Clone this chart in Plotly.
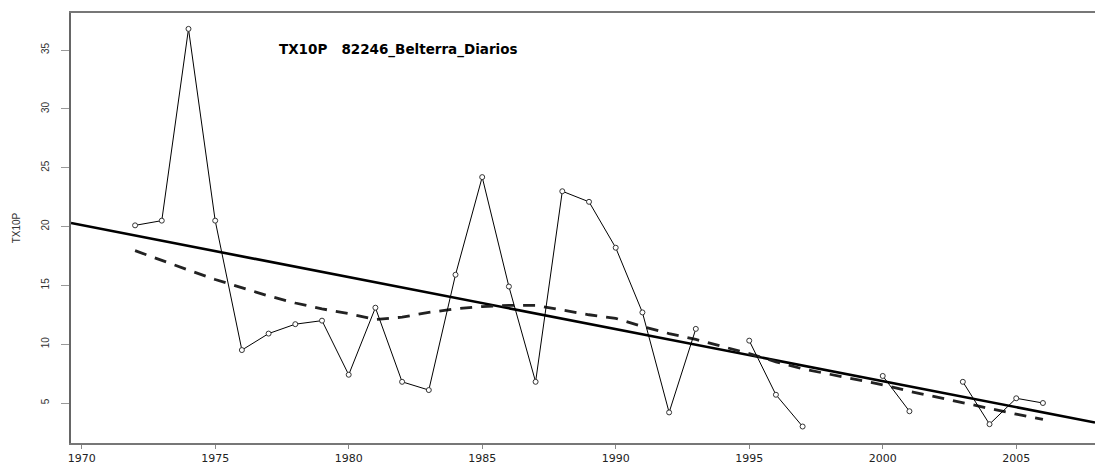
import numpy as np
import plotly.graph_objects as go

# ---- data ----
years = [1972, 1973, 1974, 1975, 1976, 1977, 1978, 1979, 1980, 1981, 1982, 1983,
         1984, 1985, 1986, 1987, 1988, 1989, 1990, 1991, 1992, 1993, 1994, 1995,
         1996, 1997, 1998, 1999, 2000, 2001, 2002, 2003, 2004, 2005, 2006]
tx10p = [20.1, 20.5, 36.8, 20.5, 9.5, 10.9, 11.7, 12.0, 7.4, 13.1, 6.8, 6.1,
         15.9, 24.2, 14.9, 6.8, 23.0, 22.1, 18.2, 12.7, 4.2, 11.3, None, 10.3,
         5.7, 3.0, None, None, 7.3, 4.3, None, 6.8, 3.2, 5.4, 5.0]

lowess_years = [1972, 1973, 1974, 1975, 1976, 1977, 1978, 1979, 1980, 1981, 1982,
                1983, 1984, 1985, 1986, 1987, 1988, 1989, 1990, 1991, 1992, 1993,
                1995, 1996, 1997, 2000, 2001, 2003, 2004, 2005, 2006]
lowess_vals = [17.95, 17.1, 16.3, 15.5, 14.8, 14.1, 13.5, 13.0, 12.6, 12.1, 12.3,
               12.7, 13.0, 13.2, 13.3, 13.3, 12.9, 12.5, 12.2, 11.5, 10.9, 10.4,
               9.2, 8.5, 7.9, 6.55, 6.0, 5.0, 4.5, 4.05, 3.6]

trend_value_1970 = 20.12
trend_slope = -0.442

x_ticks = [1970, 1975, 1980, 1985, 1990, 1995, 2000, 2005]
y_ticks = [5, 10, 15, 20, 25, 30, 35]

title_text = "TX10P   82246_Belterra_Diarios"
y_label = "TX10P"

x_range = [1969.6, 2007.95]
y_range = [1.6, 38.15]

# ---- figure ----
fig = go.Figure()

trend_x = np.array(x_range)
trend_y = trend_value_1970 + trend_slope * (trend_x - 1970)
fig.add_trace(go.Scatter(x=trend_x, y=trend_y, mode="lines",
                         line=dict(color="black", width=2.6), hoverinfo="skip"))

fig.add_trace(go.Scatter(x=lowess_years, y=lowess_vals, mode="lines",
                         line=dict(color="#222222", width=2.8, dash="12px,9px"),
                         hoverinfo="skip"))

fig.add_trace(go.Scatter(x=years, y=tx10p, mode="lines+markers", connectgaps=False,
                         line=dict(color="black", width=1),
                         marker=dict(symbol="circle", size=5, color="white",
                                     line=dict(color="#333333", width=1))))

fig.add_annotation(text="<b>" + title_text + "</b>", xref="paper", yref="paper",
                   x=0.201, y=0.914, xanchor="left", yanchor="middle",
                   showarrow=False,
                   font=dict(family="DejaVu Sans", size=13.5, color="black"))

fig.update_layout(
    width=1095, height=465,
    margin=dict(l=71, r=0, t=13, b=22),
    paper_bgcolor="white", plot_bgcolor="white",
    showlegend=False,
    font=dict(family="DejaVu Sans", color="#222222"),
    xaxis=dict(range=x_range, tickvals=x_ticks, showgrid=False, zeroline=False,
               showline=True, linecolor="#777777", linewidth=1.5, mirror=True,
               ticks="outside", ticklen=4, tickcolor="#888888",
               tickfont=dict(family="DejaVu Sans", size=11, color="#222222")),
    yaxis=dict(range=y_range, tickvals=y_ticks, showgrid=False, zeroline=False,
               showline=True, linecolor="#666666", linewidth=2,
               ticks="outside", ticklen=8, tickcolor="#999999", tickangle=-90,
               ticklabelstandoff=8,
               tickfont=dict(family="Liberation Sans Narrow, Liberation Sans", size=10,
                             color="#333333"),
               title=dict(text=y_label, standoff=18,
                          font=dict(family="Liberation Sans Narrow, Liberation Sans",
                                    size=10, color="#333333"))),
)

fig.write_html(
    "out.html",
    config={"displayModeBar": False},
    post_script="document.body.style.margin='0';document.body.style.overflow='hidden';",
)
